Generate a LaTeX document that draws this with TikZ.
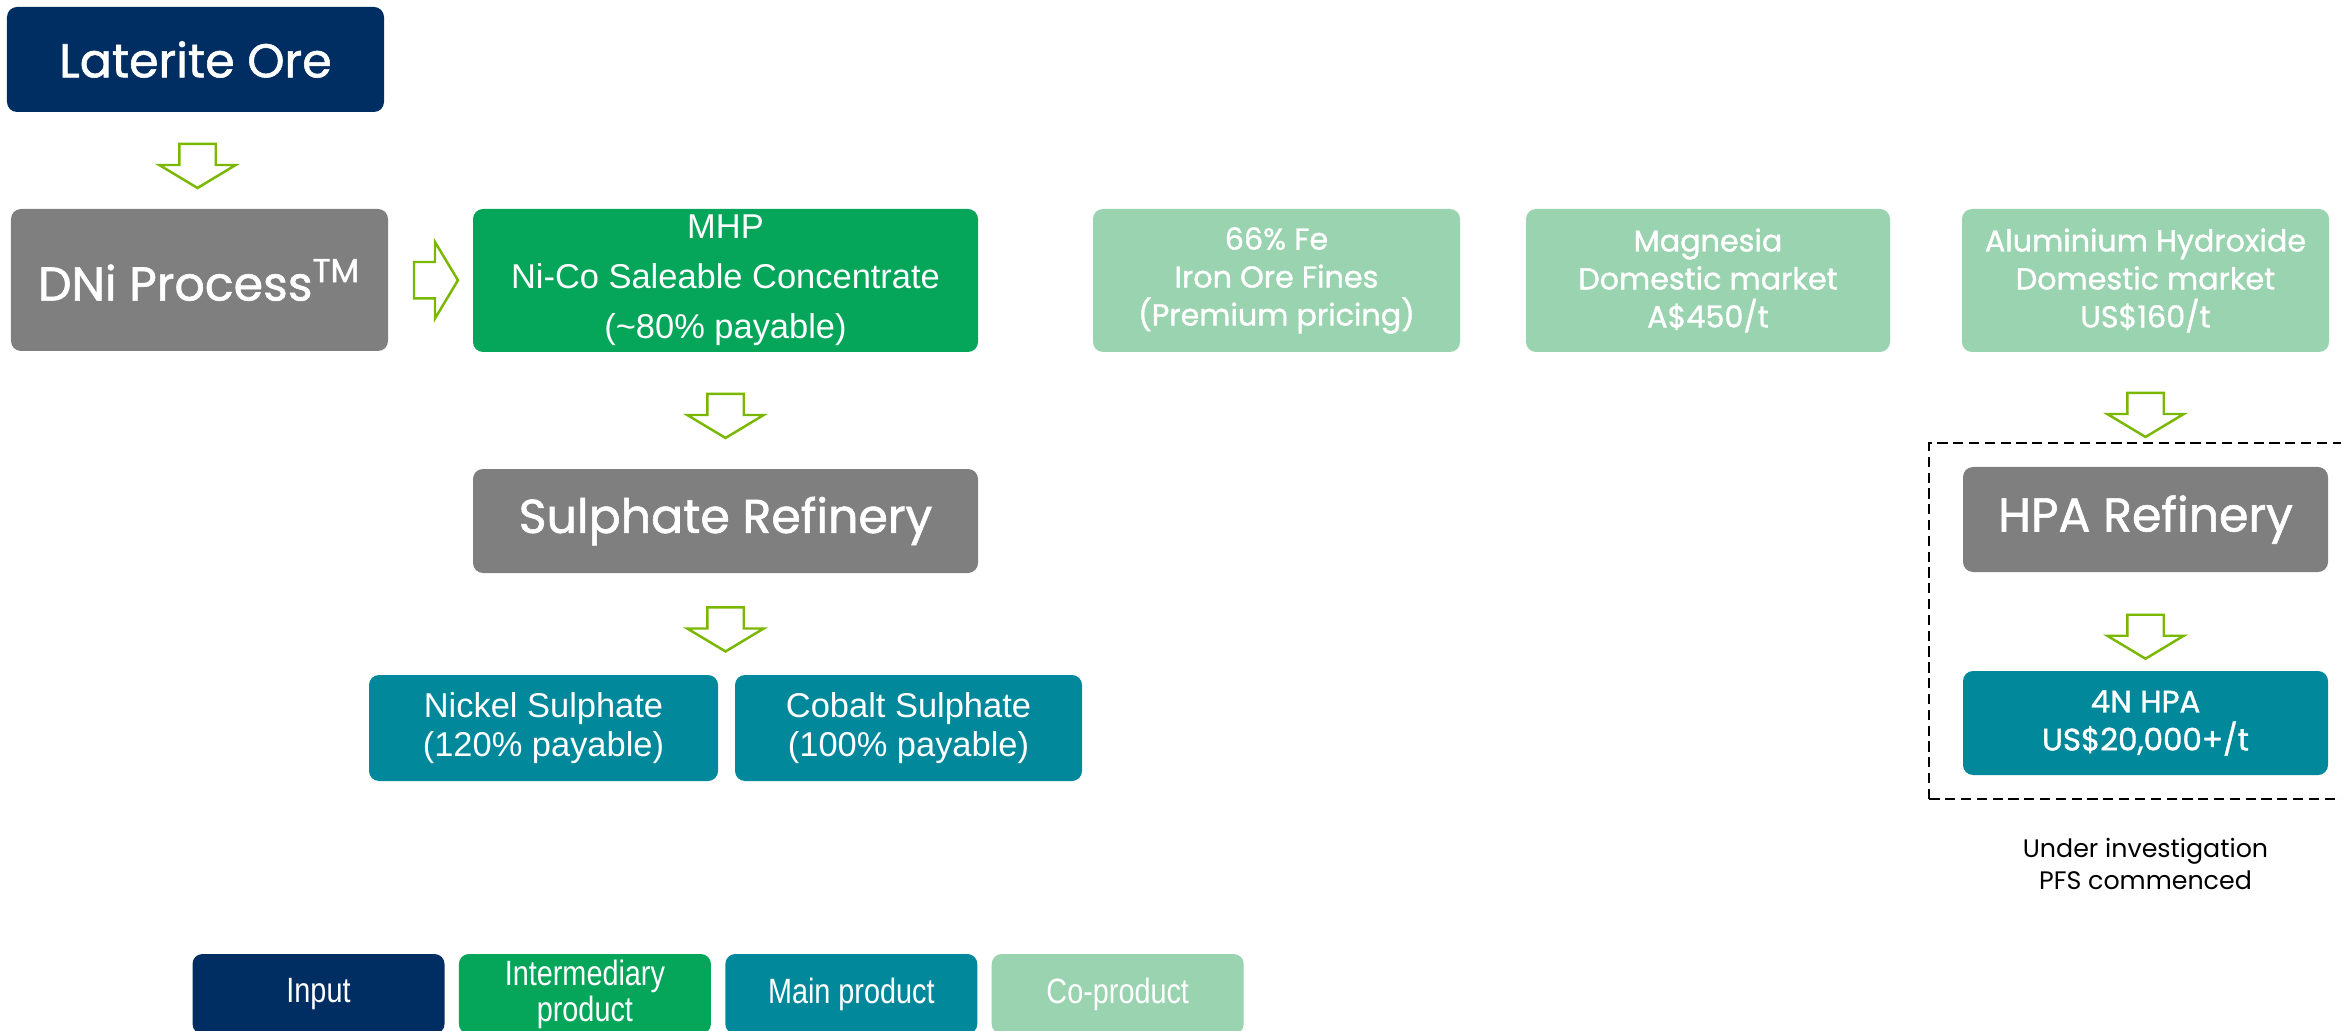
\documentclass[tikz,border=0pt]{standalone}
\usepackage{fontspec}
\setmainfont{Poppins}
\newfontfamily\gothicfont[FakeBold=1.2]{Poppins}
\newfontfamily\arialfont{Liberation Sans}
\newfontfamily\narrowfont[FakeStretch=0.82]{Liberation Sans}
\usetikzlibrary{positioning,calc,fit,shapes.arrows}

\definecolor{inputblue}{RGB}{0,46,98}
\definecolor{midgreen}{RGB}{5,165,90}
\definecolor{mainteal}{RGB}{2,136,155}
\definecolor{cogreen}{RGB}{154,211,175}
\definecolor{procgray}{RGB}{127,127,127}
\definecolor{arrowlime}{RGB}{122,184,0}

\begin{document}
\begin{tikzpicture}[
            box/.style={
                rounded corners=0.1cm,
                text=white,
                align=center,
                inner sep=0pt
            },
            titlebox/.style={
                box,
                font=\gothicfont\fontsize{13.5}{16}\selectfont
            },
            inputbox/.style={titlebox, fill=inputblue},
            procbox/.style={titlebox, fill=procgray},
            midbox/.style={
                box,
                fill=midgreen,
                font=\arialfont\fontsize{9.8}{14.2}\selectfont
            },
            mainbox/.style={
                box,
                fill=mainteal,
                font=\arialfont\fontsize{9.8}{10.9}\selectfont
            },
            cobox/.style={
                box,
                fill=cogreen,
                minimum width=3.67cm,
                minimum height=1.43cm,
                font=\gothicfont\fontsize{8.6}{10.8}\selectfont
            },
            legendbox/.style={
                box,
                minimum width=2.52cm,
                minimum height=0.8cm,
                font=\narrowfont\fontsize{10}{10.2}\selectfont
            },
            blockarrow/.style={
                single arrow,
                draw=arrowlime,
                fill=white,
                line width=0.7pt,
                single arrow head extend=0.2cm,
                single arrow tip angle=118,
                inner xsep=0.08cm,
                inner ysep=0.17cm,
                minimum height=0.44cm
            },
            downarrow/.style={blockarrow, rotate=-90},
            studybox/.style={
                draw,
                dashed,
                dash pattern=on 2.9pt off 1.6pt,
                line width=0.6pt,
                inner xsep=0.33cm,
                inner ysep=0.23cm
            },
            notetext/.style={
                align=center,
                inner sep=0pt,
                font=\fontsize{7.2}{9.1}\selectfont
            }
        ]

            \useasboundingbox (0, 0) rectangle (23.41, -10.31);

            \node[inputbox, minimum width=3.77cm, minimum height=1.05cm] (ore) at (1.955, -0.595) {Laterite Ore};
            \node[procbox, minimum width=3.77cm, minimum height=1.42cm] (dni) at (1.995, -2.80) {DNi Process\textsuperscript{TM}};

            \node[midbox, minimum width=5.05cm, minimum height=1.43cm] (mhp) at (7.255, -2.805)
                {MHP\\Ni-Co Saleable Concentrate\\(\textasciitilde80\% payable)};
            \node[procbox, minimum width=5.05cm, minimum height=1.04cm] (sref) at (7.255, -5.21) {Sulphate Refinery};

            \node[mainbox, minimum width=3.49cm, minimum height=1.06cm] (nisul) at (5.435, -7.28)
                {Nickel Sulphate\\(120\% payable)};
            \node[mainbox, minimum width=3.47cm, minimum height=1.06cm] (cosul) at (9.085, -7.28)
                {Cobalt Sulphate\\(100\% payable)};

            \node[cobox] (iron) at (12.765, -2.805) {66\% Fe\\Iron Ore Fines\\(Premium pricing)};
            \node[cobox, minimum width=3.64cm] (magnesia) at (17.08, -2.805) {Magnesia\\Domestic market\\A\$450/t};
            \node[cobox] (alhyd) at (21.455, -2.805) {Aluminium Hydroxide\\Domestic market\\US\$160/t};

            \node[procbox, minimum width=3.65cm, minimum height=1.05cm] (hparef) at (21.455, -5.195) {HPA Refinery};
            \node[mainbox, minimum width=3.65cm, minimum height=1.04cm,
                font=\gothicfont\fontsize{8.8}{10.8}\selectfont] (hpa) at (21.455, -7.23) {4N HPA\\US\$20,000+/t};

            \node[studybox, fit=(hparef)(hpa)] (study) {};
            \node[notetext, below=0.38cm of study] (note) {Under investigation\\PFS commenced};

            \node[downarrow] (ar1) at ($(ore.south)!0.5!(dni.north)$) {};
            \node[blockarrow] (ar2) at ($(dni.east)!0.5!(mhp.west)$) {};
            \node[downarrow] (ar3) at ($(mhp.south)!0.5!(sref.north)$) {};
            \node[downarrow] (ar4) at ($(sref.south)!0.5!(sref.south |- nisul.north)$) {};
            \node[downarrow] (ar5) at ($(alhyd.south)!0.5!(hparef.north)$) {};
            \node[downarrow] (ar6) at ($(hparef.south)!0.6!(hpa.north)$) {};

            \node[legendbox, fill=inputblue] (leginput) at (3.185, -9.94) {Input};
            \node[legendbox, fill=midgreen, right=0.13cm of leginput] (legmid) {Intermediary\\product};
            \node[legendbox, fill=mainteal, right=0.13cm of legmid] (legmain) {Main product};
            \node[legendbox, fill=cogreen, right=0.13cm of legmain] (legco) {Co-product};

        \end{tikzpicture}
\end{document}
